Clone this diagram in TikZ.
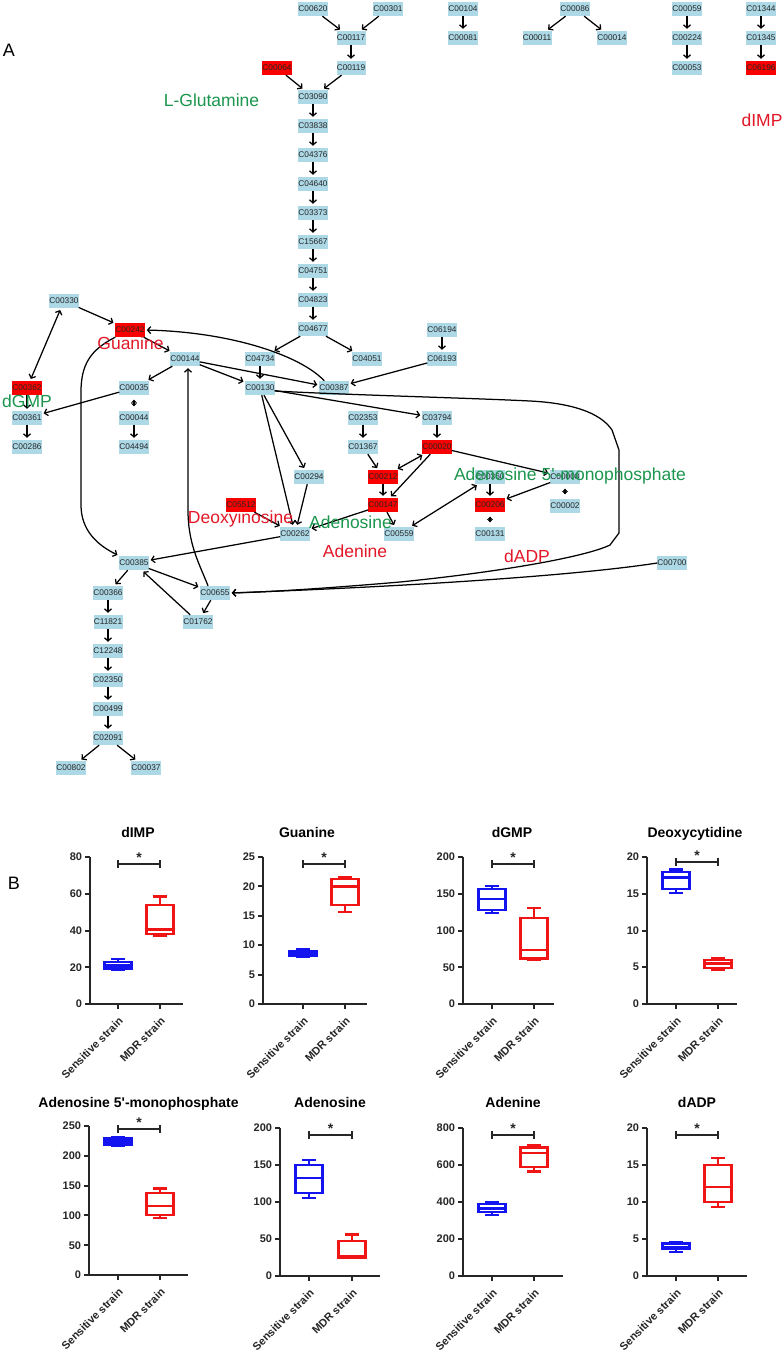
\documentclass[tikz,border=0pt]{standalone}
\usepackage{fontspec}
\setmainfont{Liberation Sans}[Ligatures=TeXOff]
\usetikzlibrary{arrows.meta}
\definecolor{nodeblue}{RGB}{173,216,230}
\definecolor{nodered}{RGB}{250,0,0}
\definecolor{lblred}{RGB}{226,24,40}
\definecolor{lblgreen}{RGB}{28,150,78}
\definecolor{boxblue}{RGB}{20,20,240}
\definecolor{boxred}{RGB}{240,20,20}

\newcommand{\plotaxes}[8]{%
  % #1 axis x, #2 y0, #3 ytop, #4 xend, #5 max, #6 step, #7 t1, #8 t2
  \pgfmathsetmacro{\yz}{#2}%
  \pgfmathsetmacro{\yk}{(#2-#3)/#5}%
  \draw[axisln] (#1,#3) -- (#1,#2) -- (#4,#2);
  \foreach \vv in {0,#6,...,#5} {%
    \draw[axisln] (#1,{#2-\vv*\yk}) -- ({#1-5},{#2-\vv*\yk}) node[ticklbl] {\vv};}
  \draw[axisln] (#7,#2) -- (#7,{#2+5});
  \draw[axisln] (#8,#2) -- (#8,{#2+5});
  \node[xlbl] at ({#7+3},{#2+15}) {Sensitive strain};
  \node[xlbl] at ({#8+3},{#2+15}) {MDR strain};
}
\newcommand{\sigbr}[3]{%
  \draw[brk] (#1,{#3-4}) -- (#1,{#3+4}) (#1,#3) -- (#2,#3) (#2,{#3-4}) -- (#2,{#3+4});
  \node[starlbl] at ({(#1+#2)/2},{#3-2}) {*};
}
\newcommand{\bxpl}[7]{%
  \draw[#7, line width=2.2pt] ({#1-13.5},{\yz-#3*\yk}) rectangle ({#1+13.5},{\yz-#5*\yk});
  \draw[#7, line width=2.2pt] ({#1-13.5},{\yz-#4*\yk}) -- ({#1+13.5},{\yz-#4*\yk});
  \draw[#7, line width=2.2pt] (#1,{\yz-#3*\yk}) -- (#1,{\yz-#2*\yk}) ({#1-7},{\yz-#2*\yk}) -- ({#1+7},{\yz-#2*\yk});
  \draw[#7, line width=2.2pt] (#1,{\yz-#5*\yk}) -- (#1,{\yz-#6*\yk}) ({#1-7},{\yz-#6*\yk}) -- ({#1+7},{\yz-#6*\yk});
}

\begin{document}
\begin{tikzpicture}[x=1pt,y=-1pt,
  cb/.style={fill=nodeblue, minimum width=29pt, minimum height=14pt, inner sep=0pt, font=\fontsize{8.3}{8.3}\selectfont, text=black!85},
  cr/.style={cb, fill=nodered},
  arr/.style={line width=1.25pt, -{Straight Barb[length=3.2pt,width=7pt]}, shorten >=2pt},
  darr/.style={line width=1.25pt, {Straight Barb[length=3.2pt,width=7pt]}-{Straight Barb[length=3.2pt,width=7pt]}, shorten >=2pt, shorten <=2pt},
  blob/.style={line width=1.2pt, {Stealth[length=3.2pt,width=6pt]}-{Stealth[length=3.2pt,width=6pt]}, shorten >=4.5pt, shorten <=4.5pt},
  biglbl/.style={font=\fontsize{17.5}{17.5}\selectfont, inner sep=0pt, anchor=base},
  panellbl/.style={font=\fontsize{18}{18}\selectfont, inner sep=0pt, anchor=base},
  axisln/.style={line width=2pt, black!85},
  brk/.style={line width=1.6pt, black!85},
  ticklbl/.style={anchor=east, inner sep=2pt, font=\bfseries\fontsize{11}{11}\selectfont, text=black!85},
  xlbl/.style={rotate=45, anchor=east, inner sep=0pt, font=\bfseries\fontsize{11}{11}\selectfont, text=black!85},
  starlbl/.style={anchor=base, inner sep=0pt, font=\bfseries\fontsize{14}{14}\selectfont, text=black!85},
  ptitle/.style={anchor=base, inner sep=0pt, font=\bfseries\fontsize{14}{14}\selectfont}
]
\useasboundingbox (0,0) rectangle (784,1352);
\fill[white] (0,0) rectangle (784,1352);

% ---------------- nodes ----------------
\node[cb] (C00620) at (313,9) {C00620};
\node[cb] (C00301) at (388,9) {C00301};
\node[cb] (C00117) at (351,38) {C00117};
\node[cr] (C00064) at (277,68) {C00064};
\node[cb] (C00119) at (351,68) {C00119};
\node[cb] (C03090) at (313,97) {C03090};
\node[cb] (C03838) at (313,126) {C03838};
\node[cb] (C04376) at (313,155) {C04376};
\node[cb] (C04640) at (313,184) {C04640};
\node[cb] (C03373) at (313,213) {C03373};
\node[cb] (C15667) at (313,242) {C15667};
\node[cb] (C04751) at (313,271) {C04751};
\node[cb] (C04823) at (313,300) {C04823};
\node[cb] (C04677) at (313,329) {C04677};
\node[cb] (C00104) at (463,9) {C00104};
\node[cb] (C00081) at (463,38) {C00081};
\node[cb] (C00086) at (575,9) {C00086};
\node[cb] (C00011) at (537,38) {C00011};
\node[cb] (C00014) at (612,38) {C00014};
\node[cb] (C00059) at (687,9) {C00059};
\node[cb] (C00224) at (687,38) {C00224};
\node[cb] (C00053) at (687,68) {C00053};
\node[cb] (C01344) at (761,9) {C01344};
\node[cb] (C01345) at (761,38) {C01345};
\node[cr] (C06196) at (761,68) {C06196};
\node[cb] (C00330) at (64,301) {C00330};
\node[cr] (C00242) at (130,330) {C00242};
\node[cb] (C00144) at (185,359) {C00144};
\node[cb] (C04734) at (260,359) {C04734};
\node[cb] (C04051) at (367,359) {C04051};
\node[cb] (C06194) at (442,330) {C06194};
\node[cb] (C06193) at (442,359) {C06193};
\node[cr] (C00362) at (27,388) {C00362};
\node[cb] (C00035) at (134,388) {C00035};
\node[cb] (C00130) at (260,388) {C00130};
\node[cb] (C00387) at (334,388) {C00387};
\node[cb] (C00361) at (27,418) {C00361};
\node[cb] (C00044) at (134,418) {C00044};
\node[cb] (C02353) at (363,418) {C02353};
\node[cb] (C03794) at (437,418) {C03794};
\node[cb] (C00286) at (27,447) {C00286};
\node[cb] (C04494) at (134,447) {C04494};
\node[cb] (C01367) at (363,447) {C01367};
\node[cr] (C00020) at (437,447) {C00020};
\node[cb] (C00294) at (309,477) {C00294};
\node[cr] (C00212) at (383,477) {C00212};
\node[cb] (C00360) at (490,477) {C00360};
\node[cb] (C00008) at (565,477) {C00008};
\node[cr] (C05512) at (241,505) {C05512};
\node[cr] (C00147) at (383,505) {C00147};
\node[cr] (C00206) at (490,505) {C00206};
\node[cb] (C00002) at (565,506) {C00002};
\node[cb] (C00262) at (295,534) {C00262};
\node[cb] (C00559) at (399,534) {C00559};
\node[cb] (C00131) at (490,534) {C00131};
\node[cb] (C00385) at (134,563) {C00385};
\node[cb] (C00700) at (672,563) {C00700};
\node[cb] (C00366) at (108,593) {C00366};
\node[cb] (C00655) at (215,593) {C00655};
\node[cb] (C01762) at (198,622) {C01762};
\node[cb] (C11821) at (108,622) {C11821};
\node[cb] (C12248) at (108,651) {C12248};
\node[cb] (C02350) at (108,680) {C02350};
\node[cb] (C00499) at (108,709) {C00499};
\node[cb] (C02091) at (108,738) {C02091};
\node[cb] (C00802) at (71,768) {C00802};
\node[cb] (C00037) at (146,768) {C00037};

% ---------------- edges ----------------
\draw[arr] (C00620) -- (C00117);
\draw[arr] (C00301) -- (C00117);
\draw[arr] (C00117) -- (C00119);
\draw[arr] (C00064) -- (C03090);
\draw[arr] (C00119) -- (C03090);
\draw[arr] (C03090) -- (C03838);
\draw[arr] (C03838) -- (C04376);
\draw[arr] (C04376) -- (C04640);
\draw[arr] (C04640) -- (C03373);
\draw[arr] (C03373) -- (C15667);
\draw[arr] (C15667) -- (C04751);
\draw[arr] (C04751) -- (C04823);
\draw[arr] (C04823) -- (C04677);
\draw[arr] (C04677) -- (C04734);
\draw[arr] (C04677) -- (C04051);
\draw[arr] (C04734) -- (C00130);
\draw[arr] (C00104) -- (C00081);
\draw[arr] (C00086) -- (C00011);
\draw[arr] (C00086) -- (C00014);
\draw[arr] (C00059) -- (C00224);
\draw[arr] (C00224) -- (C00053);
\draw[arr] (C01344) -- (C01345);
\draw[arr] (C01345) -- (C06196);
\draw[arr] (C06194) -- (C06193);
\draw[arr] (C06193) -- (C00387);
\draw[arr] (C00330) -- (C00242);
\draw[darr] (C00330) -- (C00362);
\draw[arr] (C00242) -- (C00144);
\draw[arr] ([xshift=5pt]C00387.north west) .. controls (300,355) and (230,332) .. (C00242.east);
\draw[arr] (C00144) -- (C00035);
\draw[arr] (C00144) -- (C00130);
\draw[arr] (C00144) -- (C00387);
\draw[arr] (C00035) -- (C00361);
\draw[arr] (C00362) -- (C00361);
\draw[arr] (C00361) -- (C00286);
\draw[blob] (C00035) -- (C00044);
\draw[arr] (C00044) -- (C04494);
\draw[arr] (C02353) -- (C01367);
\draw[arr] (C01367) -- (C00212);
\draw[arr] (C00130) -- (C03794);
\draw[arr] (C03794) -- (C00020);
\draw[darr] (C00020) -- (C00212);
\draw[arr] (C00020) -- (C00147);
\draw[arr] (C00212) -- (C00147);
\draw[arr] (C00020) -- (C00008);
\draw[arr] (C00360) -- (C00206);
\draw[arr] (C00008) -- (C00206);
\draw[blob] (C00008) -- (C00002);
\draw[blob] (C00206) -- (C00131);
\draw[arr] (C00147) -- (C00262);
\draw[arr] (C00147) -- (C00559);
\draw[darr] (C00559) -- (C00360);
\draw[arr] (C05512) -- (C00262);
\draw[arr] (C00294) -- (C00262);
\draw[arr] (C00130) -- (C00294);
\draw[arr] (C00130) -- (C00262);
\draw[arr] (C00262) -- (C00385);
\draw[arr] ([xshift=-7pt]C00655.north) .. controls (200,565) and (188,545) .. (188,510) -- ([xshift=3pt]C00144.south);
\draw[arr] (C00242.south west) .. controls (90,350) and (81,365) .. (81,392) -- (81,505) .. controls (81,530) and (97,545) .. (C00385.north west);
\draw[arr] (C00385) -- (C00366);
\draw[arr] (C00385) -- (C00655);
\draw[arr] (C01762) -- (C00385);
\draw[arr] (C00655) -- (C01762);
\draw[arr] (C00366) -- (C11821);
\draw[arr] (C11821) -- (C12248);
\draw[arr] (C12248) -- (C02350);
\draw[arr] (C02350) -- (C00499);
\draw[arr] (C00499) -- (C02091);
\draw[arr] (C02091) -- (C00802);
\draw[arr] (C02091) -- (C00037);
\draw[arr] (C00700.west) .. controls (580,575) and (420,586) .. (C00655.east);
\draw[arr] ([yshift=-3pt]C00130.east) .. controls (350,395) and (470,398) .. (530,401)
  .. controls (570,403) and (600,412) .. (612,430) -- (619,450) -- (619,533) -- (610,545)
  .. controls (585,557) and (500,572) .. (400,582) .. controls (330,588) and (270,592) .. (C00655.east);

% ---------------- labels ----------------
\node[panellbl] (lblA) at (9,56) {A};
\node[biglbl, text=lblgreen] (lglu) at (211.5,106) {L-Glutamine};
\node[biglbl, text=lblred] (ldimp) at (762,126) {dIMP};
\node[biglbl, text=lblred] (lgua) at (130.5,349) {Guanine};
\node[biglbl, text=lblgreen] (ldgmp) at (27,407) {dGMP};
\node[biglbl, text=lblgreen] (lamp) at (570,480) {Adenosine 5'-monophosphate};
\node[biglbl, text=lblred] (ldin) at (240.5,523) {Deoxyinosine};
\node[biglbl, text=lblgreen] (lado) at (350.5,528) {Adenosine};
\node[biglbl, text=lblred] (lade) at (355,557) {Adenine};
\node[biglbl, text=lblred] (ldadp) at (527,562) {dADP};
\node[panellbl] (lblB) at (14,889) {B};

% ---------------- plots row 1 ----------------
\node[ptitle] (t1) at (138,837) {dIMP};
\plotaxes{90}{1004}{857}{183}{80}{20}{118}{160}
\bxpl{118}{18.5}{19.3}{21}{23}{24.5}{boxblue}
\bxpl{160}{37}{38}{40.5}{54}{58.5}{boxred}
\sigbr{118}{160}{864}

\node[ptitle] (t2) at (307,837) {Guanine};
\plotaxes{263}{1004}{857}{367}{25}{5}{303}{345}
\bxpl{303}{8.0}{8.2}{8.6}{9.0}{9.3}{boxblue}
\bxpl{345}{15.6}{16.8}{20}{21.2}{21.6}{boxred}
\sigbr{303}{345}{864}

\node[ptitle] (t3) at (512,837) {dGMP};
\plotaxes{463}{1004}{857}{554}{200}{50}{492}{534}
\bxpl{492}{124}{128}{143}{157}{161}{boxblue}
\bxpl{534}{60}{62}{73}{117}{131}{boxred}
\sigbr{492}{534}{864}

\node[ptitle] (t4) at (695,837) {Deoxycytidine};
\plotaxes{647}{1004}{857}{737}{20}{5}{676}{718}
\bxpl{676}{15.1}{15.7}{17.2}{18}{18.3}{boxblue}
\bxpl{718}{4.6}{4.9}{5.5}{6.0}{6.2}{boxred}
\sigbr{676}{718}{862}

% ---------------- plots row 2 ----------------
\node[ptitle] (t5) at (138.5,1107) {Adenosine 5'-monophosphate};
\plotaxes{89}{1275}{1126}{188}{250}{50}{118}{160}
\bxpl{118}{216}{219}{224}{229}{232}{boxblue}
\bxpl{160}{96}{101}{116}{138}{145}{boxred}
\sigbr{118}{160}{1129}

\node[ptitle] (t6) at (330,1107) {Adenosine};
\plotaxes{280}{1276}{1128}{380}{200}{50}{309}{352}
\bxpl{309}{105}{112}{132}{150}{157}{boxblue}
\bxpl{352}{24.5}{25}{27}{47}{56}{boxred}
\sigbr{309}{352}{1135}

\node[ptitle] (t7) at (513,1107) {Adenine};
\plotaxes{463}{1276}{1128}{563}{800}{200}{492}{534}
\bxpl{492}{330}{345}{365}{390}{397}{boxblue}
\bxpl{534}{565}{590}{665}{695}{705}{boxred}
\sigbr{492}{534}{1135}

\node[ptitle] (t8) at (697,1107) {dADP};
\plotaxes{647}{1276}{1128}{747}{20}{5}{676}{718}
\bxpl{676}{3.2}{3.6}{3.9}{4.4}{4.6}{boxblue}
\bxpl{718}{9.3}{10}{12}{15}{16}{boxred}
\sigbr{676}{718}{1135}
\end{tikzpicture}
\end{document}
